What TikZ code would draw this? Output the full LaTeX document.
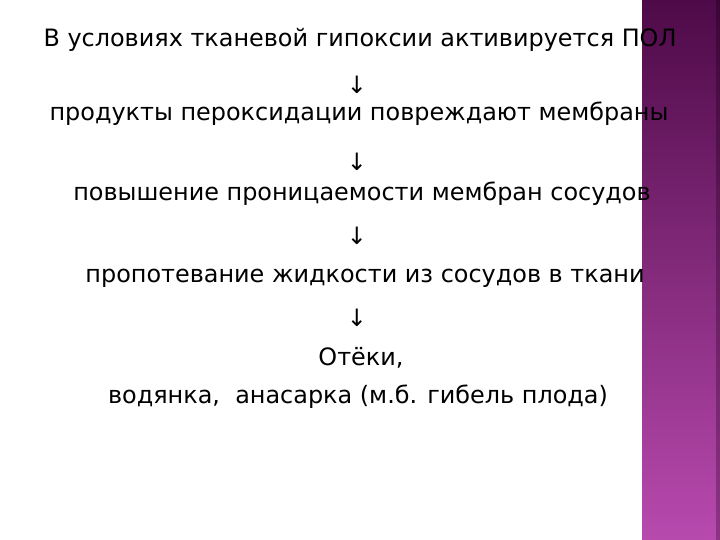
\documentclass[tikz,border=0pt]{standalone}
\usepackage{fontspec}
\setmainfont{DejaVu Sans}
\usepackage{tikz}
\usetikzlibrary{positioning}
\definecolor{plumtop}{HTML}{4E0A48}
\definecolor{plumbot}{HTML}{B84AAE}
\definecolor{plumedgetop}{HTML}{3A0636}
\definecolor{plumedgebot}{HTML}{8E3386}
\tikzset{
  stage/.style={font=\fontsize{24}{28}\selectfont, inner sep=0pt, anchor=base},
  dn/.style={font=\fontsize{24}{28}\selectfont, inner sep=0pt},
  bar/.style={top color=plumtop, bottom color=plumbot, draw=none},
  baredge/.style={top color=plumedgetop, bottom color=plumedgebot, draw=none},
}

\begin{document}
\begin{tikzpicture}[x=1bp,y=-1bp]
\useasboundingbox (0,0) rectangle (720,540);
\fill[white] (0,0) rectangle (720,540);
\shade[bar] (642,0) rectangle (716,540);
\shade[baredge] (716,0) rectangle (720,540);
\node[stage] (s1) at (360,47) {В условиях тканевой гипоксии активируется ПОЛ};
\node[dn] (a1) at (357,85) {↓};
\node[stage] (s2) at (359,121) {продукты пероксидации повреждают мембраны};
\node[dn] (a2) at (357,162) {↓};
\node[stage] (s3) at (362,201) {повышение проницаемости мембран сосудов};
\node[dn] (a3) at (357,236) {↓};
\node[stage] (s4) at (365,283) {пропотевание жидкости из сосудов в ткани};
\node[dn] (a4) at (357,318) {↓};
\node[stage] (s5) at (361,365) {Отёки,};
\node[stage] (s6) at (358,403) {водянка,\ \ анасарка (м.б. гибель плода)};
\end{tikzpicture}
\end{document}
